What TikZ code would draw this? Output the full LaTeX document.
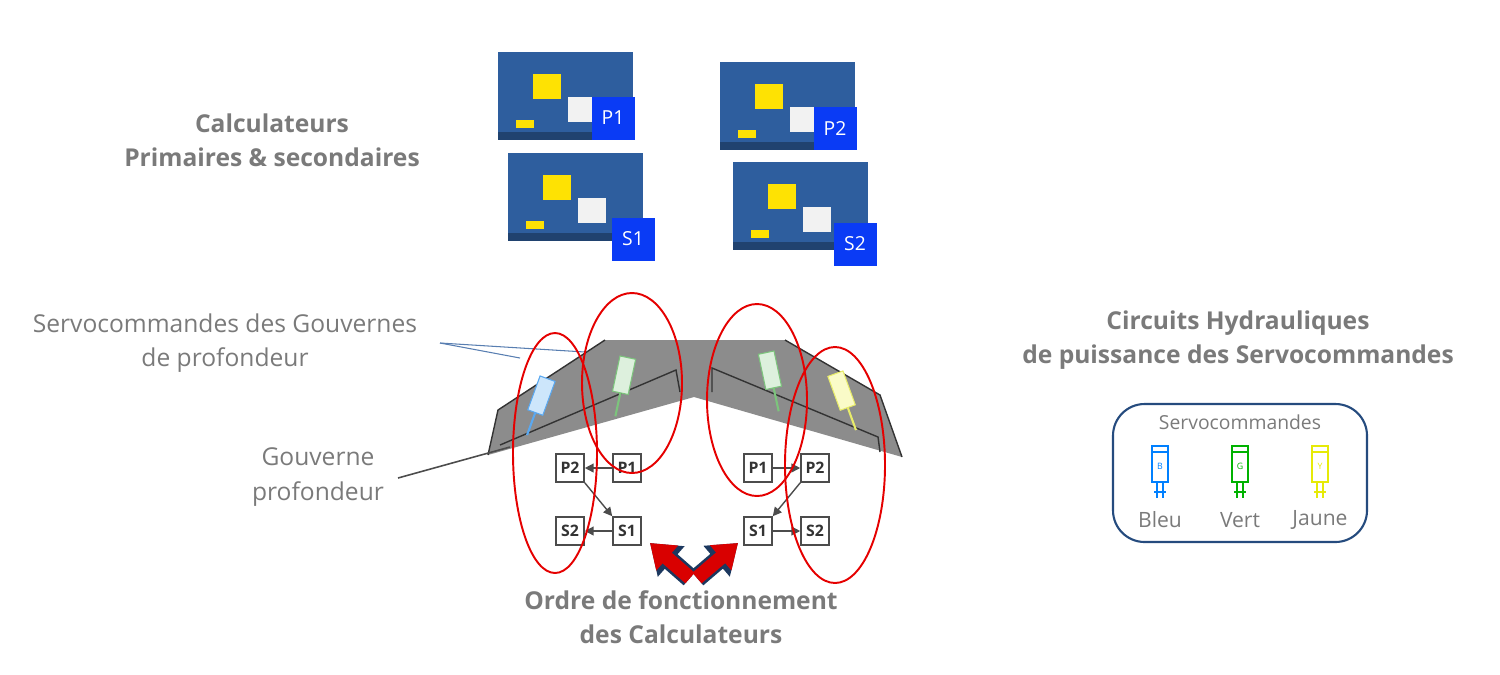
\documentclass[tikz,border=0pt]{standalone}
\usepackage{fontspec}
\setmainfont{Open Sans}
\usetikzlibrary{arrows.meta}
\definecolor{txt}{HTML}{7A7A7A}
\definecolor{ecu}{HTML}{2E5E9E}
\definecolor{lab}{HTML}{0A3BF5}
\definecolor{wing}{HTML}{8C8C8C}
\definecolor{svb}{HTML}{5AA8F0}
\definecolor{svg}{HTML}{7CC47C}
\definecolor{svy}{HTML}{E8EC6A}
\definecolor{svbf}{HTML}{CDE6FB}
\definecolor{svgf}{HTML}{DDF0DD}
\definecolor{svyf}{HTML}{FAFBC8}
\tikzset{
 lbl/.style={font=\fontsize{14}{19.5}\selectfont, text=txt, align=center},
 blbl/.style={lbl, font=\fontsize{14}{19.5}\selectfont\bfseries},
 tag/.style={fill=lab, text=white, minimum size=0.86cm, inner sep=0pt, font=\fontsize{11}{12}\selectfont},
 pbox/.style={draw=black!70, fill=white, line width=0.9pt, minimum size=0.56cm, inner sep=0pt, font=\fontsize{9}{10}\selectfont\bfseries, text=black!80},
 arr/.style={-{Triangle[length=5pt,width=5pt]}, black!70, line width=0.8pt},
 oval/.style={draw=red!90!black, line width=1.1pt},
}
\newcommand{\ecubox}[2]{% x y
 \fill[ecu] (#1,#2) rectangle ++(135,88);
 \fill[ecu!70!black] (#1,#2+80) rectangle ++(135,8);
 \fill[yellow!85!orange] (#1+35,#2+22) rectangle ++(28,25);
 \fill[white!90!gray] (#1+70,#2+45) rectangle ++(28,25);
 \fill[yellow!85!orange] (#1+18,#2+68) rectangle ++(18,8);
}
\begin{document}
\begin{tikzpicture}[x=0.02cm,y=-0.02cm]
\useasboundingbox (0,0) rectangle (1500,674);
% computers
\ecubox{498}{52}
\ecubox{720}{62}
\ecubox{508}{153}
\ecubox{733}{162}
\node[tag] (tp1) at (613,118) {P1};
\node[tag] (tp2) at (835,128) {P2};
\node[tag] (ts1) at (633,239) {S1};
\node[tag] (ts2) at (855,244) {S2};
\node[blbl] (calc) at (272,140) {Calculateurs\\Primaires \& secondaires};
% wing
\fill[wing] (488,455) -- (498,410) -- (605,340) -- (785,340) -- (880,395) -- (902,457) -- (694,397) -- cycle;
\draw[black!80, line width=0.8pt] (500,445) -- (676,370) -- (680,392);
\draw[black!80, line width=0.8pt] (712,392) -- (712,368) -- (878,437) -- (880,452);
\draw[black!80, line width=0.8pt] (488,455) -- (498,410) -- (605,340);
\draw[black!80, line width=0.8pt] (785,340) -- (880,395) -- (902,457);
% servos
\foreach \x/\y/\a/\c/\f in {538/405/-20/svb/svbf, 622/385/-12/svg/svgf, 772/380/12/svg/svgf, 845/400/20/svy/svyf}{
 \begin{scope}[shift={(\x,\y)}, rotate=\a]
  \fill[\f, draw=\c, line width=0.6pt] (-8,-28) rectangle (8,8);
  \draw[\c, line width=1.2pt] (0,8) -- (0,32);
 \end{scope}}
% leader lines
\coordinate (sv) at (440,343);
\draw[ecu!80, line width=0.6pt] (sv) -- (520,358);
\draw[ecu!80, line width=0.6pt] (sv) -- (585,352);
\node[lbl] (servo) at (225,343) {Servocommandes des Gouvernes\\de profondeur};
\node[lbl] (gouv) at (318,477) {Gouverne\\profondeur};
\draw[black!70, line width=0.9pt] (398,478) -- (510,447);
% order boxes left
\node[pbox] (lp2) at (570,468) {P2};
\node[pbox] (lp1) at (627,468) {P1};
\node[pbox] (ls2) at (570,531) {S2};
\node[pbox] (ls1) at (627,531) {S1};
\draw[arr] (lp1) -- (lp2);
\draw[arr] (lp2.south east) -- (ls1.north west);
\draw[arr] (ls1) -- (ls2);
% order boxes right
\node[pbox] (rp1) at (758,468) {P1};
\node[pbox] (rp2) at (815,468) {P2};
\node[pbox] (rs1) at (758,531) {S1};
\node[pbox] (rs2) at (815,531) {S2};
\draw[arr] (rp1) -- (rp2);
\draw[arr] (rp2.south west) -- (rs1.north east);
\draw[arr] (rs1) -- (rs2);
% ovals
\draw[oval] (555,453) ellipse [x radius=42, y radius=120];
\draw[oval] (632,383) ellipse [x radius=50, y radius=90];
\draw[oval] (757,400) ellipse [x radius=50, y radius=96];
\draw[oval] (835,465) ellipse [x radius=50, y radius=118];
% fat arrows
\coordinate (fa) at (690,578);
\coordinate (fb) at (697,578);
\coordinate (fl) at (650,543);
\coordinate (fr) at (738,543);
\draw[line width=11pt, ecu!60!black, -{Triangle[length=16pt,width=22pt]}] (fa) -- (fl);
\draw[line width=11pt, ecu!60!black, -{Triangle[length=16pt,width=22pt]}] (fb) -- (fr);
\draw[line width=8pt, red!85!black, -{Triangle[length=13pt,width=18pt]}] (fa) -- (fl);
\draw[line width=8pt, red!85!black, -{Triangle[length=13pt,width=18pt]}] (fb) -- (fr);
\node[blbl] (ordre) at (681,617) {Ordre de fonctionnement\\des Calculateurs};
% right side
\node[blbl] (circ) at (1238,340) {Circuits Hydrauliques\\de puissance des Servocommandes};
\draw[ecu!80!black, line width=1.2pt, rounded corners=18] (1113,404) rectangle (1367,542);
\node[lbl, font=\fontsize{11}{12}\selectfont] (sc) at (1240,422) {Servocommandes};
\foreach \x/\c/\n/\t in {1160/blue!50!cyan/Bleu/B, 1240/green!70!black/Vert/G, 1320/yellow!90!green/Jaune/Y}{
 \draw[\c, line width=1pt] (\x-8,446) rectangle (\x+8,482);
 \draw[\c, line width=0.6pt] (\x-8,452) -- (\x+8,452);
 \node[text=\c, font=\fontsize{5}{5}\selectfont] at (\x,466) {\t};
 \draw[\c, line width=1pt] (\x-3,482) -- (\x-3,498) (\x+3,482) -- (\x+3,498) (\x-6,492) -- (\x+6,492);
 \node[lbl, font=\fontsize{12}{13}\selectfont] (\n) at (\x,520) {\n};
}
\end{tikzpicture}
\end{document}
